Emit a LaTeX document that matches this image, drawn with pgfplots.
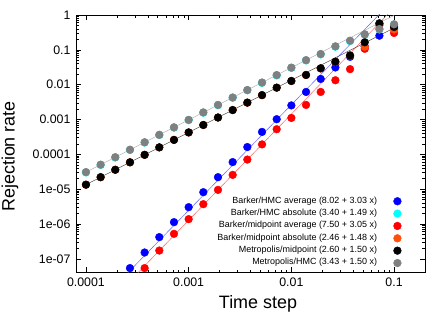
\documentclass[border=0pt]{standalone}
\usepackage{pgfplots}
\usepackage{pgfplotstable}
\pgfplotsset{compat=1.18}
\usepackage{fontspec}
\setmainfont{Liberation Sans}
\definecolor{cyanp}{RGB}{0,255,255}
\definecolor{orangep}{RGB}{255,80,10}
\definecolor{grayp}{RGB}{128,128,128}
\definecolor{bluep}{RGB}{0,0,255}
\definecolor{redp}{RGB}{255,0,0}

\pgfplotstableread{
k dt         blue      cyan      red       orange    black     gray
0  1.0000e-4 nan       3.03e-5   nan       1.34e-5   1.346e-5  3.09e-5
1  1.3895e-4 nan       4.96e-5   nan       2.20e-5   2.21e-5   5.06e-5
2  1.9307e-4 nan       8.12e-5   nan       3.59e-5   3.61e-5   8.28e-5
3  2.6827e-4 5.42e-8   1.330e-4  nan       5.88e-5   5.91e-5   1.356e-4
4  3.7276e-4 1.52e-7   2.18e-4   5.42e-8   9.64e-5   9.69e-5   2.22e-4
5  5.1795e-4 4.20e-7   3.57e-4   1.73e-7   1.579e-4  1.587e-4  3.64e-4
6  7.1969e-4 1.13e-6   5.84e-4   5.22e-7   2.59e-4   2.60e-4   5.96e-4
7  1.0000e-3 3.04e-6   9.58e-4   1.38e-6   4.24e-4   4.26e-4   9.77e-4
8  1.3895e-3 8.19e-6   1.569e-3  3.71e-6   6.93e-4   6.97e-4   1.60e-3
9  1.9307e-3 2.21e-5   2.57e-3   9.55e-6   1.136e-3  1.142e-3  2.62e-3
10 2.6827e-3 5.99e-5   4.21e-3   2.57e-5   1.861e-3  1.871e-3  4.29e-3
11 3.7276e-3 1.62e-4   6.89e-3   7.08e-5   3.04e-3   3.06e-3   7.03e-3
12 5.1795e-3 4.40e-4   1.128e-2  1.93e-4   4.99e-3   5.02e-3   1.151e-2
13 7.1969e-3 1.02e-3   1.847e-2  5.26e-4   8.17e-3   8.22e-3   1.885e-2
14 1.0000e-2 2.54e-3   3.03e-2   1.11e-3   1.27e-2   1.28e-2   3.09e-2
15 1.3895e-2 6.18e-3   4.96e-2   2.62e-3   1.89e-2   1.90e-2   5.06e-2
16 1.9307e-2 1.46e-2   7.4e-2    6.18e-3   2.9e-2    2.96e-2   7.6e-2
17 2.6827e-2 3.12e-2   0.123     1.34e-2   4.5e-2    4.57e-2   0.126
18 3.7276e-2 6.3e-2    0.178     2.79e-2   6.8e-2    6.89e-2   0.183
19 5.1795e-2 0.126     0.27      0.107     0.123     0.165     0.280
20 7.1969e-2 0.255     0.385     0.516     0.56      0.578     0.396
21 1.0000e-1 0.40      0.53      0.305     0.384     0.453     0.541
}\data

\begin{document}
\begin{tikzpicture}
\useasboundingbox (0,0) rectangle (447bp,313bp);
\begin{axis}[
  at={(76bp,40.3bp)}, anchor=south west,
  width=349bp, height=257.7bp, scale only axis,
  xmode=log, ymode=log,
  xmin=8e-5, xmax=0.2, ymin=4e-8, ymax=1,
  axis line style={line width=0.7pt},
  tick style={line width=0.5pt, black},
  major tick length=5.5pt, minor tick length=3pt,
  xtick={1e-4,1e-3,1e-2,1e-1},
  xticklabels={0.0001,0.001,0.01,0.1},
  ytick={1e-7,1e-6,1e-5,1e-4,1e-3,1e-2,1e-1,1},
  yticklabels={1e-07,1e-06,1e-05,0.0001,0.001,0.01,0.1,1},
  ticklabel style={font=\fontsize{12.4}{14}\selectfont},
  xticklabel style={yshift=-2pt},
  yticklabel style={xshift=-2pt},
  xlabel={Time step}, ylabel={Rejection rate},
  every axis x label/.style={at={(axis description cs:0.5215,-0.1215)}, anchor=center, font=\fontsize{18}{20}\selectfont},
  every axis y label/.style={at={(axis description cs:-0.189,0.451)}, anchor=center, rotate=90, font=\fontsize{18}{20}\selectfont},
  legend style={at={(axis description cs:0.9327,0.302)}, anchor=north east, draw=none, fill=none, inner sep=0pt,
    font=\fontsize{9}{10}\selectfont,
    nodes={inner xsep=0pt, inner ysep=1.7pt, text height=6.4pt, text depth=2.6pt},
    /tikz/every odd column/.append style={column sep=16.5pt}},
  legend cell align=right, legend plot pos=right,
  every axis plot/.append style={mark size=3.9pt},
]
\addplot[only marks, mark=*, draw=bluep, fill=bluep] table[x=dt, y=blue] {\data};
\addlegendentry{Barker/HMC average (8.02 + 3.03 x)}
\addplot[only marks, mark=*, draw=cyanp, fill=cyanp] table[x=dt, y=cyan] {\data};
\addlegendentry{Barker/HMC absolute (3.40 + 1.49 x)}
\addplot[only marks, mark=*, draw=redp, fill=redp] table[x=dt, y=red] {\data};
\addlegendentry{Barker/midpoint average (7.50 + 3.05 x)}
\addplot[only marks, mark=*, draw=orangep, fill=orangep] table[x=dt, y=orange] {\data};
\addlegendentry{Barker/midpoint absolute (2.46 + 1.48 x)}
\addplot[only marks, mark=*, draw=black, fill=black] table[x=dt, y=black] {\data};
\addlegendentry{Metropolis/midpoint (2.60 + 1.50 x)}
\addplot[only marks, mark=*, draw=grayp, fill=grayp] table[x=dt, y=gray] {\data};
\addlegendentry{Metropolis/HMC (3.43 + 1.50 x)}
% fit lines
\addplot[forget plot, no marks, line width=0.45pt, color=bluep!65] coordinates {(1e-4,2.307e-9) (0.1,2.838)};
\addplot[forget plot, no marks, line width=0.45pt, color=redp!65] coordinates {(1e-4,1.1408e-9) (0.1,1.6115)};
\addplot[forget plot, no marks, line width=0.45pt, color=black!75] coordinates {(1e-4,1.3464e-5) (0.1,0.4258)};
\addplot[forget plot, no marks, line width=0.45pt, color=grayp!65] coordinates {(1e-4,3.088e-5) (0.1,0.9764)};
\end{axis}
\end{tikzpicture}
\end{document}
